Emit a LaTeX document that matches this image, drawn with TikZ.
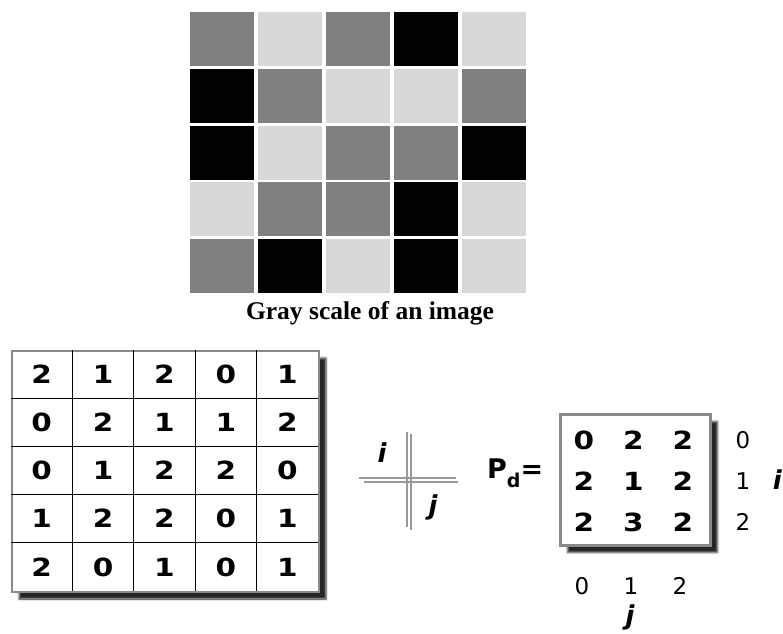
\documentclass[tikz,border=0pt]{standalone}
\usepackage{fontspec}
\setmainfont{Liberation Serif}
\newfontfamily\verd{DejaVu Sans}
\newfontfamily\verdwide[FakeStretch=1.18]{DejaVu Sans}
\usetikzlibrary{shadows.blur}
\definecolor{lvl0}{HTML}{000000}
\definecolor{lvl1}{HTML}{D8D8D8}
\definecolor{lvl2}{HTML}{808080}
\definecolor{framegray}{HTML}{8A8A8A}
\begin{document}
\begin{tikzpicture}[
			x=1pt,y=-1pt,
			num/.style={font=\verdwide\bfseries\fontsize{25}{25}\selectfont, inner sep=0pt},
			idx/.style={font=\verd\fontsize{23}{23}\selectfont, inner sep=0pt},
			axis/.style={font=\verd\bfseries\itshape\fontsize{26}{26}\selectfont, inner sep=0pt, anchor=base},
			bar/.style={draw=gray!80, line width=1.5pt},
			frame/.style={draw=framegray, fill=white, anchor=north west, inner sep=0pt,
					blur shadow={shadow xshift=7pt, shadow yshift=-7pt, shadow opacity=85,
							shadow blur steps=4, shadow blur radius=2pt}}
		]
		\useasboundingbox (0,0) rectangle (783,633);
		% gray image
		\foreach \row [count=\r from 0] in {{2,1,2,0,1},{0,2,1,1,2},{0,1,2,2,0},{1,2,2,0,1},{2,0,1,0,1}} {
				\foreach \v [count=\c from 0] in \row {
						\fill[lvl\v] ({190+68*\c},{12+56.75*\r}) rectangle +(64,54);
					}
			}
		\node[font=\bfseries\fontsize{25.5}{25.5}\selectfont, anchor=base, inner sep=0pt] (caption) at (370,319) {Gray scale of an image};

		% table of gray levels
		\node[frame, line width=2pt, minimum width=307pt, minimum height=241pt] (tab) at (11,350) {};
		\foreach \k in {1,...,4} {
				\draw[line width=0.8pt] ({11+61.4*\k},350) -- ({11+61.4*\k},591);
				\draw[line width=0.8pt] (11,{350+48.2*\k}) -- (318,{350+48.2*\k});
			}
		\foreach \row [count=\r from 0] in {{2,1,2,0,1},{0,2,1,1,2},{0,1,2,2,0},{1,2,2,0,1},{2,0,1,0,1}} {
				\foreach \v [count=\c from 0] in \row {
						\node[num] (t-\r-\c) at ({11+61.4*(\c+0.5)},{350+48.2*(\r+0.5)}) {\v};
					}
			}

		% direction cross
		\draw[bar] (359,478) -- (456,478);
		\draw[bar] (364,482) -- (458,482);
		\draw[bar] (407,432) -- (407,527);
		\draw[bar] (411,434) -- (411,530);
		\node[axis] (ci) at (382,462) {i};
		\node[axis] (cj) at (433,514) {j};

		% co-occurrence matrix
		\node[font=\verd\bfseries\fontsize{27}{27}\selectfont, anchor=base west, inner sep=0pt] (pdlabel) at (487,478)
		{P\raisebox{-9pt}{\fontsize{19}{19}\selectfont d}=};
		\node[frame, line width=3pt, minimum width=150pt, minimum height=131pt] (pd) at (559,413) {};
		\foreach \row [count=\r from 0] in {{0,2,2},{2,1,2},{2,3,2}} {
				\foreach \v [count=\c from 0] in \row {
						\node[num] (p-\r-\c) at ({584+49.5*\c},{440+41*\r}) {\v};
					}
				\node[idx] (ri-\r) at (743,{440+41*\r}) {\r};
			}
		\foreach \c in {0,1,2} {
				\node[idx] (cj-\c) at ({582+49*\c},586) {\c};
			}
		\node[axis, anchor=base east] (ri) at (782,489) {i};
		\node[axis] (bj) at (630,624) {j};
	\end{tikzpicture}
\end{document}
